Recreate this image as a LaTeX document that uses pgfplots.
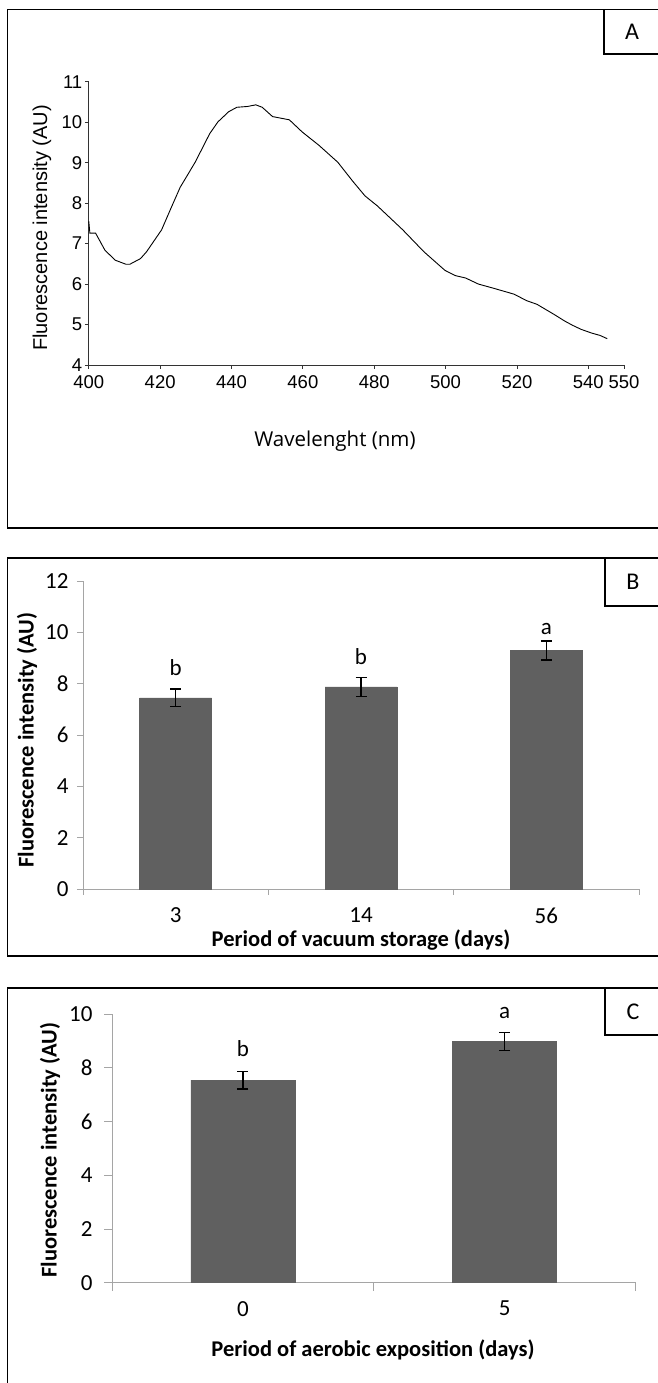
\documentclass[border=0pt]{standalone}
\usepackage{pgfplots}
\pgfplotsset{compat=1.18}
\usepackage{fontspec}
\setmainfont{Liberation Sans}
\newfontfamily\carlito{Carlito}
\newfontfamily\opensans{Open Sans}
\definecolor{bargray}{RGB}{96,96,96}
\definecolor{axgray}{RGB}{165,165,165}

\pgfplotstableread{
x y e
1 7.45 0.34
2 7.87 0.37
3 9.29 0.37
}\tableB
\pgfplotstableread{
x y e
1 7.54 0.33
2 8.97 0.33
}\tableC

\begin{document}
\begin{tikzpicture}[x=1pt,y=1pt]
\useasboundingbox (0,0) rectangle (657,1383);
% panel frames
\draw[line width=1.4pt] (7.5,855) rectangle (720,1373.5);
\draw[line width=1.4pt] (7.5,427) rectangle (720,825);
\draw[line width=1.4pt] (7.5,-30) rectangle (720,395);
% panel letter boxes
\draw[line width=1.2pt] (604,1329) rectangle (720,1373.5);
\draw[line width=1.2pt] (605,777) rectangle (720,825);
\draw[line width=1.2pt] (605,348) rectangle (720,395);
\node[font=\carlito\fontsize{24}{28}\selectfont] at (632,1351) {A};
\node[font=\carlito\fontsize{24}{28}\selectfont] at (633,801) {B};
\node[font=\carlito\fontsize{24}{28}\selectfont] at (633,371) {C};

% ---------------- Panel A ----------------
\begin{axis}[at={(88.8pt,1018pt)}, anchor=south west, scale only axis,
  width=535.2pt, height=283.2pt,
  xmin=400, xmax=550, ymin=4, ymax=11,
  axis x line*=bottom, axis y line*=left,
  xtick={400,420,440,460,480,500,520,540,550},
  ytick={4,5,6,7,8,9,10,11},
  tick align=outside, major tick length=4pt,
  axis line style={black!80, line width=0.8pt},
  tick style={black!80, line width=0.8pt},
  ticklabel style={font=\fontsize{18.5}{22}\selectfont},
  xticklabel style={yshift=-3pt},
  yticklabel style={xshift=1pt},
  /pgf/number format/assume math mode=true,
  clip=false]
\addplot[black, line width=0.9pt] coordinates {
(400,7.55) (400.3,7.26) (401.9,7.26) (404.5,6.84) (407.4,6.59) (410.4,6.49)
(411.5,6.49) (414.5,6.63) (416.2,6.80) (420.4,7.34) (423.3,7.93) (425.6,8.39)
(429.8,9.01) (433.9,9.72) (436.2,10.01) (439.2,10.26) (441.5,10.37) (444.5,10.39)
(446.8,10.43) (448.6,10.37) (451.5,10.14) (456.2,10.06) (459.8,9.76) (464.5,9.43)
(469.8,9.01) (473.9,8.55) (477.4,8.18) (480.9,7.93) (488.0,7.34) (493.9,6.80)
(499.8,6.34) (502.7,6.21) (505.6,6.15) (509.2,6.00) (513.3,5.90) (519.2,5.75)
(522.7,5.59) (525.6,5.50) (530.4,5.25) (533.3,5.09) (535.6,4.98) (538.0,4.88)
(540.9,4.79) (543.3,4.73) (545.3,4.65)
};
\end{axis}
\node[rotate=90, font=\fontsize{20}{24}\selectfont] at (42,1155) {Fluorescence intensity (AU)};
\node[font=\opensans\fontsize{20.5}{24}\selectfont] at (335,942) {Wavelenght (nm)};

% ---------------- Panel B ----------------
\begin{axis}[at={(83pt,494pt)}, anchor=south west, scale only axis,
  width=556pt, height=308pt,
  xmin=0.5, xmax=3.5, ymin=0, ymax=12,
  axis x line*=bottom, axis y line*=left,
  xtick={0.5,1.5,2.5,3.5}, xticklabels={},
  extra x ticks={1,2,3}, extra x tick labels={3,14,56},
  extra x tick style={major tick length=0pt},
  ytick={0,2,4,6,8,10,12},
  tick align=outside, major tick length=6pt,
  axis line style={axgray, line width=0.8pt},
  tick style={axgray, line width=0.8pt},
  ticklabel style={font=\carlito\fontsize{23}{26}\selectfont},
  xticklabel style={yshift=-15pt},
  yticklabel style={xshift=-5pt},
  /pgf/number format/assume math mode=true,
  ybar, bar width=72pt,
  clip=false]
\addplot[fill=bargray, draw=bargray,
  error bars/.cd, y dir=both, y explicit, error mark=-,
  error bar style={black, line width=1.3pt},
  error mark options={rotate=90, draw=black, line width=1.3pt, mark size=5.5pt}]
  table[x=x, y=y, y error=e] {\tableB};
\node[font=\carlito\fontsize{23}{26}\selectfont] at (axis cs:1,8.61) {b};
\node[font=\carlito\fontsize{23}{26}\selectfont] at (axis cs:2,9.05) {b};
\node[font=\carlito\fontsize{23}{26}\selectfont] at (axis cs:3,10.13) {a};
\end{axis}
\node[rotate=90, font=\carlito\bfseries\fontsize{22.5}{26}\selectfont] at (27,643) {Fluorescence intensity (AU)};
\node[font=\carlito\bfseries\fontsize{22.5}{26}\selectfont] at (361,443) {Period of vacuum storage (days)};

% ---------------- Panel C ----------------
\begin{axis}[at={(112pt,100.3pt)}, anchor=south west, scale only axis,
  width=523.5pt, height=268.7pt,
  xmin=0.5, xmax=2.5, ymin=0, ymax=10,
  axis x line*=bottom, axis y line*=left,
  xtick={0.5,1.5,2.5}, xticklabels={},
  extra x ticks={1,2}, extra x tick labels={0,5},
  extra x tick style={major tick length=0pt},
  ytick={0,2,4,6,8,10},
  tick align=outside, major tick length=8pt,
  axis line style={axgray, line width=0.8pt},
  tick style={axgray, line width=0.8pt},
  ticklabel style={font=\carlito\fontsize{23}{26}\selectfont},
  xticklabel style={yshift=-15pt},
  yticklabel style={xshift=-8pt},
  /pgf/number format/assume math mode=true,
  ybar, bar width=104pt,
  clip=false]
\addplot[fill=bargray, draw=bargray,
  error bars/.cd, y dir=both, y explicit, error mark=-,
  error bar style={black, line width=1.3pt},
  error mark options={rotate=90, draw=black, line width=1.3pt, mark size=5.5pt}]
  table[x=x, y=y, y error=e] {\tableC};
\node[font=\carlito\fontsize{23}{26}\selectfont] at (axis cs:1,8.72) {b};
\node[font=\carlito\fontsize{23}{26}\selectfont] at (axis cs:2,10.03) {a};
\end{axis}
\node[rotate=90, font=\carlito\bfseries\fontsize{22.5}{26}\selectfont] at (50,233) {Fluorescence intensity (AU)};
\node[font=\carlito\bfseries\fontsize{22.5}{26}\selectfont] at (373,33) {Period of aerobic exposition (days)};
\end{tikzpicture}
\end{document}
